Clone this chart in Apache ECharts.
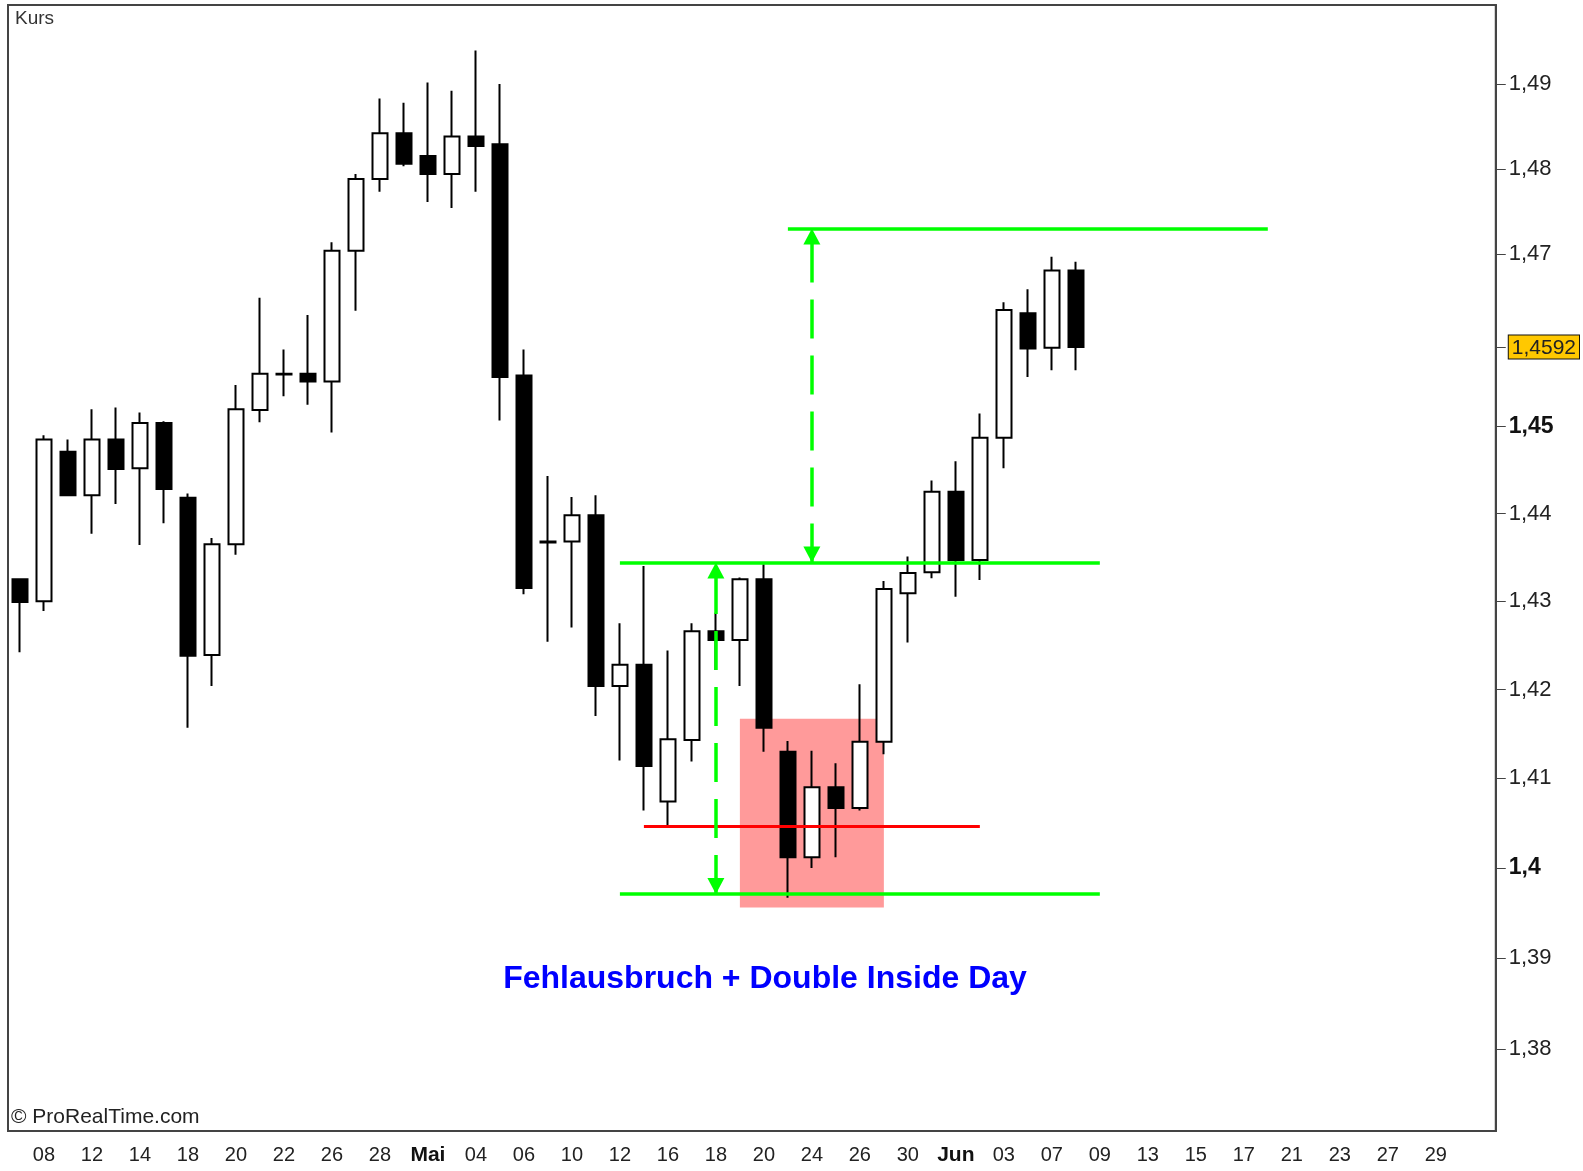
<!DOCTYPE html>
<html>
<head>
<meta charset="utf-8">
<title>Kurs</title>
<script src="https://cdn.jsdelivr.net/npm/echarts@6/dist/echarts.min.js"></script>
<style>
  html, body { margin: 0; padding: 0; background: #fff; }
  #chart { width: 1583px; height: 1171px; }
</style>
</head>
<body>
<div id="chart"></div>
<script>
const dates = [
  '2011-04-07', '2011-04-08', '2011-04-11', '2011-04-12', '2011-04-13', '2011-04-14', '2011-04-15',
  '2011-04-18', '2011-04-19', '2011-04-20', '2011-04-21', '2011-04-22', '2011-04-25', '2011-04-26',
  '2011-04-27', '2011-04-28', '2011-04-29',
  '2011-05-02', '2011-05-03', '2011-05-04', '2011-05-05', '2011-05-06', '2011-05-09', '2011-05-10',
  '2011-05-11', '2011-05-12', '2011-05-13', '2011-05-16', '2011-05-17', '2011-05-18', '2011-05-19',
  '2011-05-20', '2011-05-23', '2011-05-24', '2011-05-25', '2011-05-26', '2011-05-27', '2011-05-30',
  '2011-05-31',
  '2011-06-01', '2011-06-02', '2011-06-03', '2011-06-06', '2011-06-07', '2011-06-08', '2011-06-09',
  '2011-06-10', '2011-06-13', '2011-06-14', '2011-06-15', '2011-06-16', '2011-06-17', '2011-06-20',
  '2011-06-21', '2011-06-22', '2011-06-23', '2011-06-24', '2011-06-27', '2011-06-28', '2011-06-29',
  '2011-06-30', '2011-07-01'
]

const open = [
  1.4325, 1.4300, 1.4471, 1.4421, 1.4485, 1.4452, 1.4504, 1.4418, 1.4239, 1.4365,
  1.4519, 1.4560, 1.4561, 1.4552, 1.4704, 1.4788, 1.4842, 1.4815, 1.4794, 1.4838,
  1.4829, 1.4559, 1.4368, 1.4368, 1.4398, 1.4204, 1.4228, 1.4074, 1.4143, 1.4266,
  1.4256, 1.4325, 1.4130, 1.4012, 1.4090, 1.4067, 1.4141, 1.4309, 1.4333, 1.4425,
  1.4347, 1.4487, 1.4631, 1.4591, 1.4681
]
const close = [
  1.4299, 1.4485, 1.4421, 1.4485, 1.4451, 1.4504, 1.4428, 1.4238, 1.4365, 1.4520,
  1.4561, 1.4561, 1.4552, 1.4704, 1.4788, 1.4842, 1.4806, 1.4794, 1.4838, 1.4827,
  1.4557, 1.4315, 1.4367, 1.4398, 1.4204, 1.4228, 1.4114, 1.4144, 1.4266, 1.4256,
  1.4325, 1.4157, 1.4012, 1.4090, 1.4067, 1.4141, 1.4314, 1.4332, 1.4425, 1.4347,
  1.4487, 1.4635, 1.4590, 1.4681, 1.4592
]
const low = [
  1.4242, 1.4289, 1.4420, 1.4377, 1.4411, 1.4364, 1.4389, 1.4157, 1.4204, 1.4353,
  1.4505, 1.4535, 1.4525, 1.4493, 1.4634, 1.4773, 1.4803, 1.4761, 1.4754, 1.4773,
  1.4507, 1.4308, 1.4254, 1.4270, 1.4170, 1.4120, 1.4064, 1.4047, 1.4119, 1.4222,
  1.4204, 1.4130, 1.3967, 1.4000, 1.4012, 1.4064, 1.4127, 1.4253, 1.4326, 1.4305,
  1.4324, 1.4452, 1.4557, 1.4565, 1.4565
]
const high = [
  1.4326, 1.4490, 1.4485, 1.4520, 1.4522, 1.4516, 1.4506, 1.4423, 1.4372, 1.4548,
  1.4649, 1.4589, 1.4629, 1.4714, 1.4794, 1.4883, 1.4878, 1.4902, 1.4892, 1.4940,
  1.4900, 1.4589, 1.4443, 1.4419, 1.4421, 1.4275, 1.4340, 1.4244, 1.4275, 1.4287,
  1.4327, 1.4342, 1.4142, 1.4131, 1.4117, 1.4206, 1.4323, 1.4351, 1.4438, 1.4460,
  1.4515, 1.4644, 1.4659, 1.4697, 1.4691
]

// x labels: every second trading day, month start written as month name
const tickDates = [
  '2011-04-08', '2011-04-12', '2011-04-14', '2011-04-18', '2011-04-20', '2011-04-22', '2011-04-26',
  '2011-04-28', '2011-05-02', '2011-05-04', '2011-05-06', '2011-05-10', '2011-05-12', '2011-05-16',
  '2011-05-18', '2011-05-20', '2011-05-24', '2011-05-26', '2011-05-30', '2011-06-01', '2011-06-03',
  '2011-06-07', '2011-06-09', '2011-06-13', '2011-06-15', '2011-06-17', '2011-06-21', '2011-06-23',
  '2011-06-27', '2011-06-29'
]
const tickTexts = [
  '08', '12', '14', '18', '20', '22', '26', '28', 'Mai', '04', '06', '10', '12', '16', '18', '20',
  '24', '26', '30', 'Jun', '03', '07', '09', '13', '15', '17', '21', '23', '27', '29'
]
const monthTexts = ['Mai', 'Jun']

const yTicks = [1.38, 1.39, 1.4, 1.41, 1.42, 1.43, 1.44, 1.45, 1.4592, 1.47, 1.48, 1.49]
const boldTicks = [1.4, 1.45]
const lastPrice = 1.4592

// annotation levels
const supportLevel = 1.3971
const rangeTop = 1.4344
const targetLevel = 1.4730
const falseBreakLevel = 1.4046
const boxTop = 1.4167
const boxBottom = 1.3956

const GREEN = '#00ff00'
const RED = '#ff0000'
const FONT = '"Liberation Sans", Arial, sans-serif'

const candleData = open.map((o, i) => [o, close[i], low[i], high[i]])

const greenLine = { color: GREEN, width: 3.5, type: 'solid' }
const arrowEnd = { symbol: 'triangle', symbolSize: [17, 16], symbolOffset: [0, 8] }

const formatPrice = (value) => {
  const v = Math.round(value * 10000) / 10000
  const text = String(v).replace('.', ',')
  if (v === lastPrice) return '{cur|' + text + '}'
  if (boldTicks.indexOf(v) >= 0) return '{b|' + text + '}'
  return text
}

const option = {
  animation: false,
  backgroundColor: '#fff',
  grid: {
    left: 8,
    right: 83,
    top: 5,
    bottom: 40,
    show: true,
    borderColor: '#444',
    borderWidth: 2,
    backgroundColor: '#fff'
  },
  xAxis: {
    type: 'category',
    data: dates,
    boundaryGap: true,
    axisLine: { lineStyle: { color: '#444', width: 2 } },
    axisTick: {
      alignWithLabel: true,
      length: 8,
      interval: (i, v) => tickDates.indexOf(v) >= 0,
      lineStyle: { color: '#333', width: 2 }
    },
    axisLabel: {
      interval: (i, v) => tickDates.indexOf(v) >= 0,
      margin: 14,
      fontFamily: FONT,
      fontSize: 20,
      color: '#222',
      formatter: (v) => {
        const t = tickTexts[tickDates.indexOf(v)] || ''
        return monthTexts.indexOf(t) >= 0 ? '{b|' + t + '}' : t
      },
      rich: {
        b: { fontWeight: 'bold', fontSize: 21, color: '#111', fontFamily: FONT }
      }
    },
    splitLine: { show: false }
  },
  yAxis: {
    type: 'log',
    logBase: 10,
    position: 'right',
    min: 1.37103,
    max: 1.4994,
    axisLine: { show: true, lineStyle: { color: '#444', width: 2 } },
    axisTick: {
      show: true,
      length: 10,
      customValues: yTicks,
      lineStyle: { color: '#444', width: 1 }
    },
    axisLabel: {
      customValues: yTicks,
      margin: 13,
      fontFamily: FONT,
      fontSize: 22,
      color: '#222',
      formatter: formatPrice,
      rich: {
        b: { fontWeight: 'bold', fontSize: 23, color: '#111', fontFamily: FONT },
        cur: {
          fontSize: 21,
          color: '#222',
          fontFamily: FONT,
          backgroundColor: '#ffc800',
          borderColor: '#111',
          borderWidth: 1,
          padding: [2, 3, 0, 3]
        }
      }
    },
    splitLine: { show: false }
  },
  graphic: [
    {
      type: 'text',
      left: 15,
      top: 9,
      style: { text: 'Kurs', fill: '#333', font: '19px ' + FONT }
    },
    {
      type: 'text',
      left: 11,
      top: 1107,
      style: { text: '\u00a9 ProRealTime.com', fill: '#222', font: '21px ' + FONT }
    },
    {
      type: 'text',
      x: 765,
      y: 979,
      style: {
        text: 'Fehlausbruch + Double Inside Day',
        fill: '#0000ff',
        font: 'bold 32px ' + FONT,
        align: 'center',
        verticalAlign: 'middle',
        textAlign: 'center',
        textVerticalAlign: 'middle'
      }
    }
  ],
  series: [
    {
      name: 'Kurs',
      type: 'candlestick',
      data: candleData,
      barWidth: 16,
      itemStyle: {
        color: '#fff',
        color0: '#000',
        borderColor: '#000',
        borderColor0: '#000',
        borderWidth: 2
      },
      markArea: {
        silent: true,
        itemStyle: { color: '#ff9a9a', opacity: 1 },
        data: [
          [{ coord: [30, boxTop] }, { coord: [36, boxBottom] }]
        ]
      },
      markLine: {
        silent: true,
        symbol: 'none',
        label: { show: false },
        data: [
          [{ coord: [25, supportLevel], lineStyle: greenLine }, { coord: [45, supportLevel] }],
          [{ coord: [25, rangeTop], lineStyle: greenLine }, { coord: [45, rangeTop] }],
          [{ coord: [32, targetLevel], lineStyle: greenLine }, { coord: [52, targetLevel] }],
          [{ coord: [26, falseBreakLevel], lineStyle: { color: RED, width: 3, type: 'solid' } }, { coord: [40, falseBreakLevel] }],
          [
            Object.assign({ coord: [29, supportLevel], lineStyle: { color: GREEN, width: 3.5, type: [39, 17] } }, arrowEnd),
            Object.assign({ coord: [29, rangeTop] }, arrowEnd)
          ],
          [
            Object.assign({ coord: [33, rangeTop], lineStyle: { color: GREEN, width: 3.5, type: [39, 17] } }, arrowEnd),
            Object.assign({ coord: [33, targetLevel] }, arrowEnd)
          ]
        ]
      }
    }
  ]
}

const chart = echarts.init(document.getElementById('chart'))
chart.setOption(option)
window.addEventListener('resize', () => chart.resize())
</script>
</body>
</html>
